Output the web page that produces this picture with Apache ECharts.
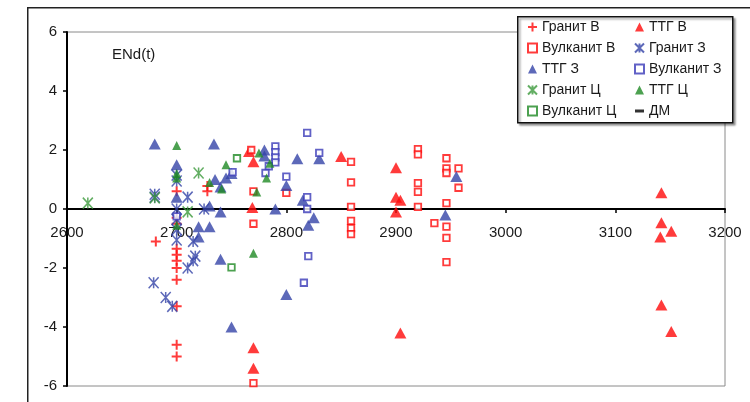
<!DOCTYPE html>
<html>
<head>
<meta charset="utf-8">
<script src="https://cdn.jsdelivr.net/npm/echarts@6/dist/echarts.min.js"></script>
<style>
  html, body { margin: 0; padding: 0; background: #fff; }
  #chart { width: 750px; height: 402px; }
</style>
</head>
<body>
<div id="chart"></div>
<script>
// Axis ranges and ticks
const xTicks = [2600, 2700, 2800, 2900, 3000, 3100, 3200];
const yTicks = [-6, -4, -2, 0, 2, 4, 6];

// [age, εNd(t)] per group
const granitV = [[2700,0.6],[2700,-0.3],[2700,-0.5],[2700,-1.35],[2700,-1.55],[2700,-1.75],[2700,-2.0],[2700,-2.4],[2700,-3.3],[2700,-4.6],[2700,-5.0],[2681,-1.1],[2728,0.78],[2728,0.6]];
const ttgV = [[2766,1.95],[2770,1.6],[2769,0.05],[2770,-4.7],[2770,-5.4],[2850,1.78],[2900,1.4],[2900,0.4],[2904,0.3],[2900,-0.1],[2904,-4.2],[3142,0.55],[3142,-0.47],[3151,-0.75],[3141,-0.95],[3142,-3.25],[3151,-4.15]];
const vulkV = [[2768,2.0],[2770,0.6],[2770,-0.5],[2770,-5.9],[2800,0.55],[2859,1.6],[2859,0.9],[2859,0.07],[2859,-0.4],[2859,-0.65],[2859,-0.85],[2920,2.03],[2920,1.85],[2920,0.88],[2920,0.58],[2920,0.07],[2935,-0.48],[2946,1.72],[2946,1.38],[2946,1.22],[2946,0.2],[2946,-0.6],[2946,-0.98],[2946,-1.8],[2957,1.38],[2957,0.72]];
const granitZ = [[2680,0.5],[2680,0.4],[2700,1.15],[2700,0.95],[2700,0.0],[2700,-0.35],[2700,-0.7],[2700,-1.05],[2710,0.4],[2725,0.0],[2715,-1.1],[2679,-2.5],[2690,-3.0],[2696,-3.3],[2710,-2.0],[2715,-1.75],[2717,-1.6]];
const ttgZ = [[2680,2.2],[2700,1.5],[2700,0.4],[2734,2.2],[2730,0.1],[2740,-0.1],[2720,-0.6],[2730,-0.6],[2720,-0.95],[2740,-1.7],[2750,-4.0],[2735,1.0],[2745,1.05],[2740,0.75],[2750,1.2],[2780,2.0],[2780,1.8],[2790,0.0],[2800,-2.9],[2800,0.8],[2810,1.7],[2815,0.3],[2820,-0.55],[2825,-0.3],[2830,1.7],[2945,-0.2],[2955,1.1]];
const vulkZ = [[2790,2.12],[2790,1.93],[2790,1.75],[2790,1.58],[2784,1.45],[2781,1.22],[2819,2.58],[2830,1.9],[2800,1.1],[2819,0.4],[2819,0.0],[2820,-1.6],[2816,-2.5],[2700,-0.25],[2751,1.25]];
const granitC = [[2619,0.2],[2680,0.38],[2720,1.22],[2710,-0.1]];
const ttgC = [[2700,2.15],[2700,1.2],[2700,1.05],[2700,-0.55],[2730,0.9],[2745,1.5],[2741,0.68],[2775,1.9],[2785,1.55],[2782,1.05],[2773,0.58],[2770,-1.5]];
const vulkC = [[2755,1.72],[2750,-1.98]];
const dm = [];

const RED = '#ff0a0a';
const BLUE = '#3443a8';
const BLUE_SQ = '#3a3ab8';
const GREEN = '#1f8a24';
const GREEN_X = '#3c9a3c';
const FONT = 'Liberation Sans, Arial, sans-serif';

const PLUS = 'path://M5,0V10M0,5H10';
const STAR = 'path://M0,0L10,10M10,0L0,10M5,0V10';

function plusSeries(name, data, color) {
  return { name, type: 'scatter', data, symbol: PLUS, symbolSize: 10,
    itemStyle: { color: 'transparent', borderColor: color, borderWidth: 2 } };
}
function starSeries(name, data, color) {
  return { name, type: 'scatter', data, symbol: STAR, symbolSize: [10, 11],
    itemStyle: { color: 'transparent', borderColor: color, borderWidth: 1.6 } };
}
function triSeries(name, data, color, size) {
  return { name, type: 'scatter', data, symbol: 'triangle', symbolSize: size,
    itemStyle: { color } };
}
function sqSeries(name, data, color) {
  return { name, type: 'scatter', data, symbol: 'rect', symbolSize: 6.5,
    itemStyle: { color: '#fff', borderColor: color, borderWidth: 1.8 } };
}

const chart = echarts.init(document.getElementById('chart'), null, { renderer: 'canvas' });

const legendText = { color: '#1a1a1a', fontSize: 14, fontFamily: FONT };

chart.setOption({
  backgroundColor: '#fff',
  animation: false,
  grid: { left: 67, right: 25, top: 32, bottom: 16, show: true, borderColor: '#8a8a8a', borderWidth: 1, backgroundColor: 'transparent' },
  xAxis: {
    type: 'value', min: xTicks[0], max: xTicks[xTicks.length - 1], interval: 100,
    // axis drawn through εNd = 0 (grid height 354 px, zero 177 px above the bottom)
    offset: -177,
    axisLine: { onZero: false, lineStyle: { color: '#000', width: 2 } },
    axisTick: { show: true, length: 4, lineStyle: { color: '#000', width: 1.5 } },
    axisLabel: { margin: 16, color: '#1a1a1a', fontSize: 15, fontFamily: FONT, formatter: v => String(v) },
    splitLine: { show: false }
  },
  yAxis: {
    type: 'value', min: yTicks[0], max: yTicks[yTicks.length - 1], interval: 2,
    axisLine: { onZero: false, lineStyle: { color: '#000', width: 2 } },
    axisTick: { show: true, length: 4, lineStyle: { color: '#000', width: 1.5 } },
    axisLabel: { margin: 10, color: '#1a1a1a', fontSize: 15, fontFamily: FONT },
    splitLine: { show: false }
  },
  legend: [
    {
      orient: 'vertical', left: 527, top: 20, padding: 0, itemWidth: 9, itemHeight: 9, itemGap: 7,
      textStyle: legendText, selectedMode: false, z: 5,
      data: ['Гранит В', 'Вулканит В', 'ТТГ З', 'Гранит Ц', 'Вулканит Ц']
    },
    {
      orient: 'vertical', left: 634, top: 20, padding: 0, itemWidth: 9, itemHeight: 9, itemGap: 7,
      textStyle: legendText, selectedMode: false, z: 5,
      data: ['ТТГ В', 'Гранит З', 'Вулканит З', 'ТТГ Ц', { name: 'ДМ', icon: 'path://M0,0H6V2H0Z' }]
    }
  ],
  graphic: [
    { type: 'rect', left: 27, top: 7, z: -10, silent: true,
      shape: { width: 740, height: 410 },
      style: { fill: 'transparent', stroke: '#222', lineWidth: 1.5 } },
    { type: 'rect', left: 517, top: 16, z: 0, silent: true,
      shape: { width: 215, height: 106 },
      style: { fill: '#fff', stroke: '#111', lineWidth: 1.5, shadowColor: 'rgba(0,0,0,0.35)', shadowOffsetX: 2, shadowOffsetY: 2, shadowBlur: 2 } },
    { type: 'text', left: 112, top: 47, z: 10, silent: true,
      style: { text: 'ENd(t)', fill: '#1a1a1a', font: '15px Liberation Sans, Arial, sans-serif' } }
  ],
  series: [
    plusSeries('Гранит В', granitV, RED),
    triSeries('ТТГ В', ttgV, RED, [12, 11]),
    sqSeries('Вулканит В', vulkV, RED),
    starSeries('Гранит З', granitZ, BLUE),
    triSeries('ТТГ З', ttgZ, BLUE, [12, 11]),
    sqSeries('Вулканит З', vulkZ, BLUE_SQ),
    starSeries('Гранит Ц', granitC, GREEN_X),
    triSeries('ТТГ Ц', ttgC, GREEN, [9, 9]),
    sqSeries('Вулканит Ц', vulkC, GREEN),
    { name: 'ДМ', type: 'scatter', data: dm, symbol: 'rect', symbolSize: [6, 2], itemStyle: { color: '#000' } }
  ]
});
</script>
</body>
</html>
